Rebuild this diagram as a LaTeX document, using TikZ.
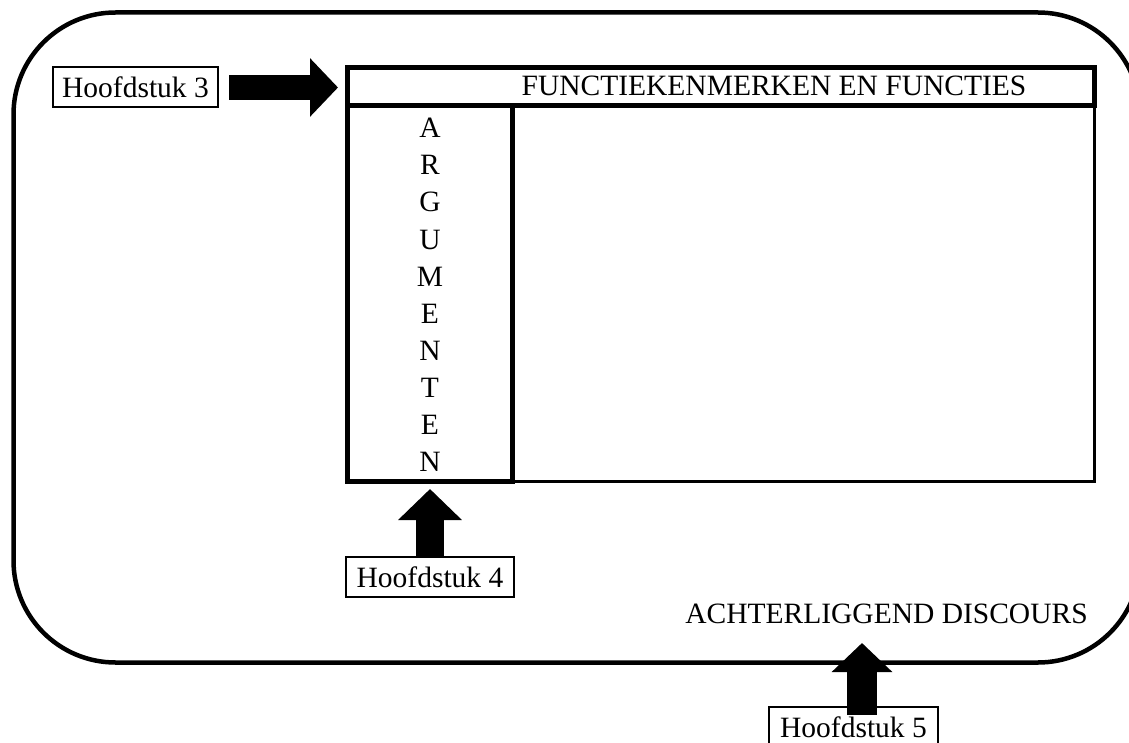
\documentclass[tikz,border=0pt]{standalone}
\usepackage{fontspec}
\setmainfont{Liberation Serif}
\usetikzlibrary{arrows.meta}
\begin{document}
\begin{tikzpicture}[x=1pt,y=-1pt,
  txt/.style={font=\fontsize{29.5}{36}\selectfont, inner sep=0pt},
  labelbox/.style={draw, line width=2pt, font=\fontsize{29.5}{36}\selectfont, inner sep=0pt, outer sep=0pt, minimum height=40pt},
  thickbox/.style={draw, line width=4.5pt, inner sep=0pt, outer sep=0pt},
  blockarrow/.style={line cap=butt}
]
\path[use as bounding box, clip] (0,0) rectangle (1129,743);
% outer rounded frame
\draw[line width=4.5pt, rounded corners=102pt] (13.5,12.5) rectangle (1140,662.5);

% title box and argument column
\node[thickbox, minimum width=747pt, minimum height=38pt] (title) at (721,86.5) {};
\node[txt] (titletxt) at (774,86) {FUNCTIEKENMERKEN EN FUNCTIES};
\node[thickbox, minimum width=165pt, minimum height=376pt] (args) at (430,293.5) {};
\draw[line width=2.5pt] (args.south east) -| (title.south east);
\node[txt, align=center, font=\fontsize{29.5}{37.1}\selectfont] (letters) at (430,295)
  {A\\R\\G\\U\\M\\E\\N\\T\\E\\N};

% chapter labels
\node[labelbox, minimum width=165pt] (h3) at (135.5,87.5) {Hoofdstuk 3};
\node[labelbox, minimum width=168pt] (h4) at (430,577) {Hoofdstuk 4};
\node[labelbox, minimum width=169pt] (h5) at (853.5,727) {Hoofdstuk 5};
\node[txt] (ach) at (886.5,614) {ACHTERLIGGEND DISCOURS};

% block arrows
\draw[blockarrow, line width=25pt, -{Triangle[width=57pt,length=28pt]},
      shorten <=11pt, shorten >=9.5pt] (h3.east) -- (h3.east -| title.west);
\draw[blockarrow, line width=28pt, -{Triangle[width=62pt,length=31pt]},
      shorten >=7.5pt] (h4.north) -- (args.south);
\coordinate (a5s) at (862,715);
\coordinate (a5t) at (862,643);
\draw[blockarrow, line width=30pt, -{Triangle[width=59pt,length=29pt]}] (a5s) -- (a5t);
\end{tikzpicture}
\end{document}
